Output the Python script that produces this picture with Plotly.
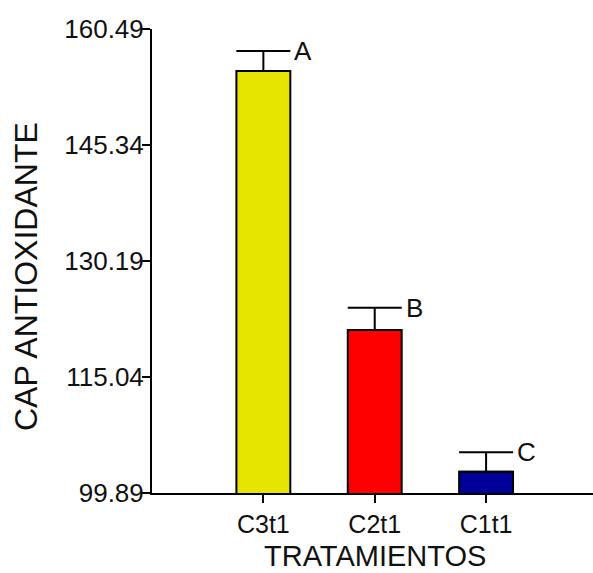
import plotly.graph_objects as go

categories = ["C3t1", "C2t1", "C1t1"]
values = [155.01, 121.18, 102.67]
errors = [2.61, 2.91, 2.53]
letters = ["A", "B", "C"]
bar_colors = ["#E5E500", "#FF0000", "#000099"]
y_ticks = [99.89, 115.04, 130.19, 145.34, 160.49]
y_tick_labels = ["99.89", "115.04", "130.19", "145.34", "160.49"]

FONT = "Liberation Sans, Arial, sans-serif"
BAR_W = 0.484

fig = go.Figure()
fig.add_trace(go.Bar(
    x=list(range(len(categories))),
    y=values,
    width=BAR_W,
    marker=dict(color=bar_colors, line=dict(color="black", width=2)),
    error_y=dict(type="data", symmetric=False, array=errors,
                 arrayminus=[0] * len(errors), color="black",
                 thickness=2, width=27),
    showlegend=False,
))

for i, (v, e, t) in enumerate(zip(values, errors, letters)):
    fig.add_annotation(x=i + BAR_W / 2, y=v + e, text=t, showarrow=False,
                       xanchor="left", yanchor="middle", xshift=2,
                       font=dict(family=FONT, size=26, color="#111"))

fig.add_annotation(xref="paper", yref="paper", x=-0.2857, y=0.4655,
                   text="CAP ANTIOXIDANTE", textangle=-90, showarrow=False,
                   xanchor="center", yanchor="middle",
                   font=dict(family=FONT, size=32, color="#111"))
fig.add_annotation(xref="paper", yref="paper", x=0.5068, y=-0.1358,
                   text="TRATAMIENTOS", showarrow=False,
                   xanchor="center", yanchor="middle",
                   font=dict(family=FONT, size=29, color="#111"))

fig.update_layout(
    width=593, height=573,
    margin=dict(l=152, r=0, t=29, b=80),
    paper_bgcolor="white", plot_bgcolor="white",
    xaxis=dict(range=[-1, 2.96], tickmode="array",
               tickvals=list(range(len(categories))), ticktext=categories,
               showline=True, linecolor="black", linewidth=2,
               ticks="outside", ticklen=8, tickwidth=2, tickcolor="black",
               showgrid=False, zeroline=False,
               tickfont=dict(family=FONT, size=25, color="#111")),
    yaxis=dict(range=[99.89, 160.49], tickmode="array",
               tickvals=y_ticks, ticktext=y_tick_labels,
               showline=True, linecolor="black", linewidth=2,
               ticks="outside", ticklen=8, tickwidth=2, tickcolor="black",
               showgrid=False, zeroline=False, ticklabelstandoff=-7,
               tickfont=dict(family=FONT, size=26, color="#111")),
)

fig.write_html("out.html", config={"displayModeBar": False},
               post_script="document.body.style.margin='0';")
